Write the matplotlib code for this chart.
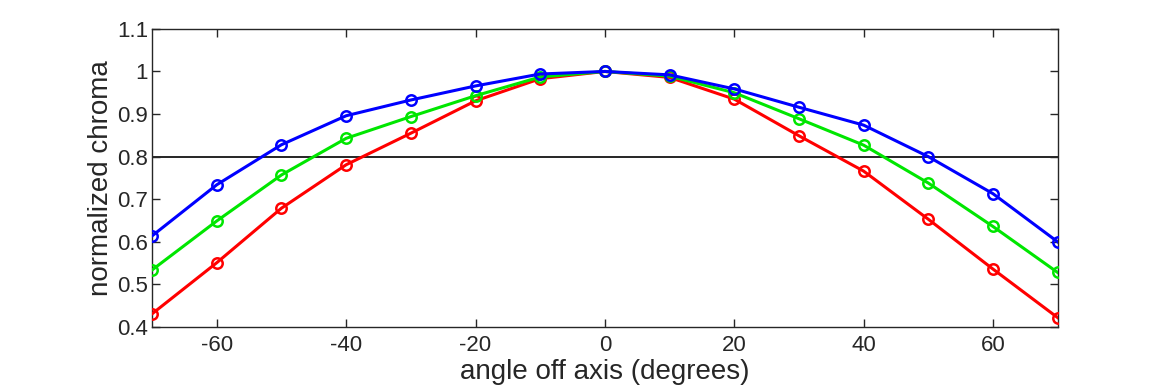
import matplotlib
matplotlib.use("Agg")
import matplotlib.pyplot as plt

angles = [-70, -60, -50, -40, -30, -20, -10, 0, 10, 20, 30, 40, 50, 60, 70]
red = [0.431, 0.551, 0.679, 0.781, 0.855, 0.931, 0.983, 1.0, 0.986, 0.935, 0.849, 0.766, 0.653, 0.536, 0.422]
green = [0.534, 0.649, 0.757, 0.843, 0.894, 0.943, 0.987, 1.0, 0.989, 0.950, 0.889, 0.827, 0.738, 0.636, 0.528]
blue = [0.614, 0.734, 0.828, 0.896, 0.933, 0.966, 0.994, 1.0, 0.992, 0.959, 0.916, 0.874, 0.800, 0.713, 0.600]
threshold = 0.8
xticks = [-60, -40, -20, 0, 20, 40, 60]
yticks = [0.4, 0.5, 0.6, 0.7, 0.8, 0.9, 1.0, 1.1]
ytick_labels = ["0.4", "0.5", "0.6", "0.7", "0.8", "0.9", "1", "1.1"]

plt.rcParams['font.family'] = ['Liberation Sans', 'DejaVu Sans']
plt.rcParams['axes.unicode_minus'] = False

fig = plt.figure(figsize=(11.7, 3.9), dpi=100)
ax = fig.add_axes([0.130, 0.1615, 0.774, 0.7645])

ax.axhline(threshold, color='black', lw=1.2, zorder=1)
for vals, col in [(red, '#ff0000'), (green, '#00e600'), (blue, '#0000ff')]:
    ax.plot(angles, vals, color=col, lw=2.2, marker='o', markersize=7.5,
            markerfacecolor='none', markeredgecolor=col, markeredgewidth=1.8, zorder=3)

ax.set_xlim(-70, 70)
ax.set_ylim(0.4, 1.1)
ax.set_xticks(xticks)
ax.set_yticks(yticks)
ax.set_yticklabels(ytick_labels)
ax.tick_params(direction='in', length=6, width=1, top=True, right=True,
               labelsize=16, colors='#262626')
ax.tick_params(axis='x', pad=6)
ax.tick_params(axis='y', pad=3)
for s in ax.spines.values():
    s.set_color('#262626')
    s.set_linewidth(1)

ax.set_xlabel('angle off axis (degrees)', fontsize=20, color='#262626', labelpad=2)
ax.set_ylabel('normalized chroma', fontsize=20, color='#262626', labelpad=2)

fig.savefig('out.png', dpi=100)
